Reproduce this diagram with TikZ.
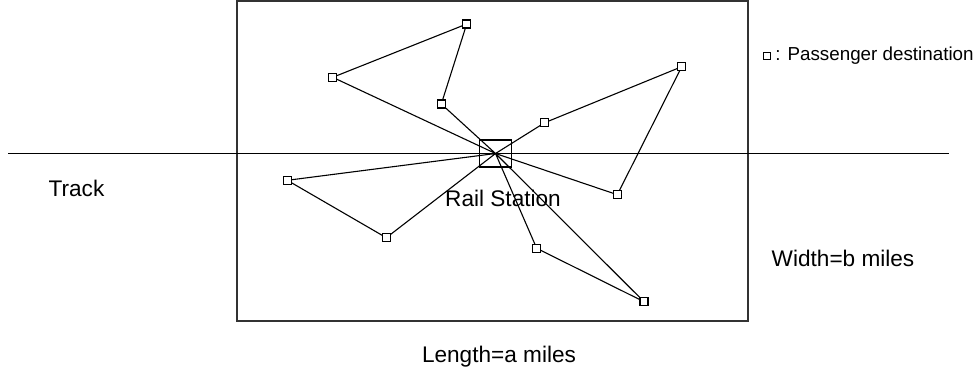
\documentclass[tikz,border=0pt]{standalone}
\usepackage{fontspec}
\setmainfont{Liberation Sans}
\usetikzlibrary{positioning,backgrounds}

\begin{document}
\begin{tikzpicture}[x=0.5pt,y=-0.5pt,
  dest/.style={draw, fill=white, line width=0.6pt, minimum size=4pt, inner sep=0pt},
  route/.style={line width=0.55pt},
  label/.style={font=\fontsize{11.3}{13}\selectfont, inner sep=0pt}
]
\useasboundingbox (0,0) rectangle (979,377);
% region and track
\draw[line width=0.8pt, black!80] (237,1) rectangle (748,321);
\coordinate (tl) at (8,153.5);
\coordinate (tr) at (949,153.5);
\draw[line width=0.6pt] (tl) -- (tr);
% rail station
\coordinate (st) at (495.5,153.5);
\node[draw, line width=0.7pt, minimum width=16pt, minimum height=13.5pt, inner sep=0pt] (box) at (st) {};
% destinations
\node[dest] (p1) at (466.7,24) {};
\node[dest] (p2) at (332.7,77.3) {};
\node[dest] (p3) at (441.3,104) {};
\node[dest] (p4) at (681.7,66.7) {};
\node[dest] (p5) at (544.7,122.7) {};
\node[dest] (p6) at (617.3,194.7) {};
\node[dest] (p7) at (287.3,180.3) {};
\node[dest] (p8) at (386.3,237.7) {};
\node[dest] (p9) at (536.7,248.3) {};
\node[dest] (p10) at (644,301.7) {};
% tours
\begin{scope}[on background layer]
\draw[route] (st) -- (p2.center) -- (p1.center) -- (p3.center) -- (st);
\draw[route] (st) -- (p5.center) -- (p4.center) -- (p6.center) -- (st);
\draw[route] (st) -- (p7.center) -- (p8.center) -- (st);
\draw[route] (st) -- (p9.center) -- (p10.center) -- (st);
\end{scope}
% labels
\node[label] (track) at (76.5,188) {Track};
\node[label] (station) at (503,198) {Rail Station};
\node[label] (width) at (843,258) {Width=b miles};
\node[label] (length) at (499,357) {Length=a miles};
% legend
\node[dest, minimum size=3.5pt, line width=0.5pt] (key) at (767,56) {};
\node[right=2pt of key, font=\fontsize{9.4}{11}\selectfont, inner sep=0pt] (keytext) {: Passenger destination};
\end{tikzpicture}
\end{document}
